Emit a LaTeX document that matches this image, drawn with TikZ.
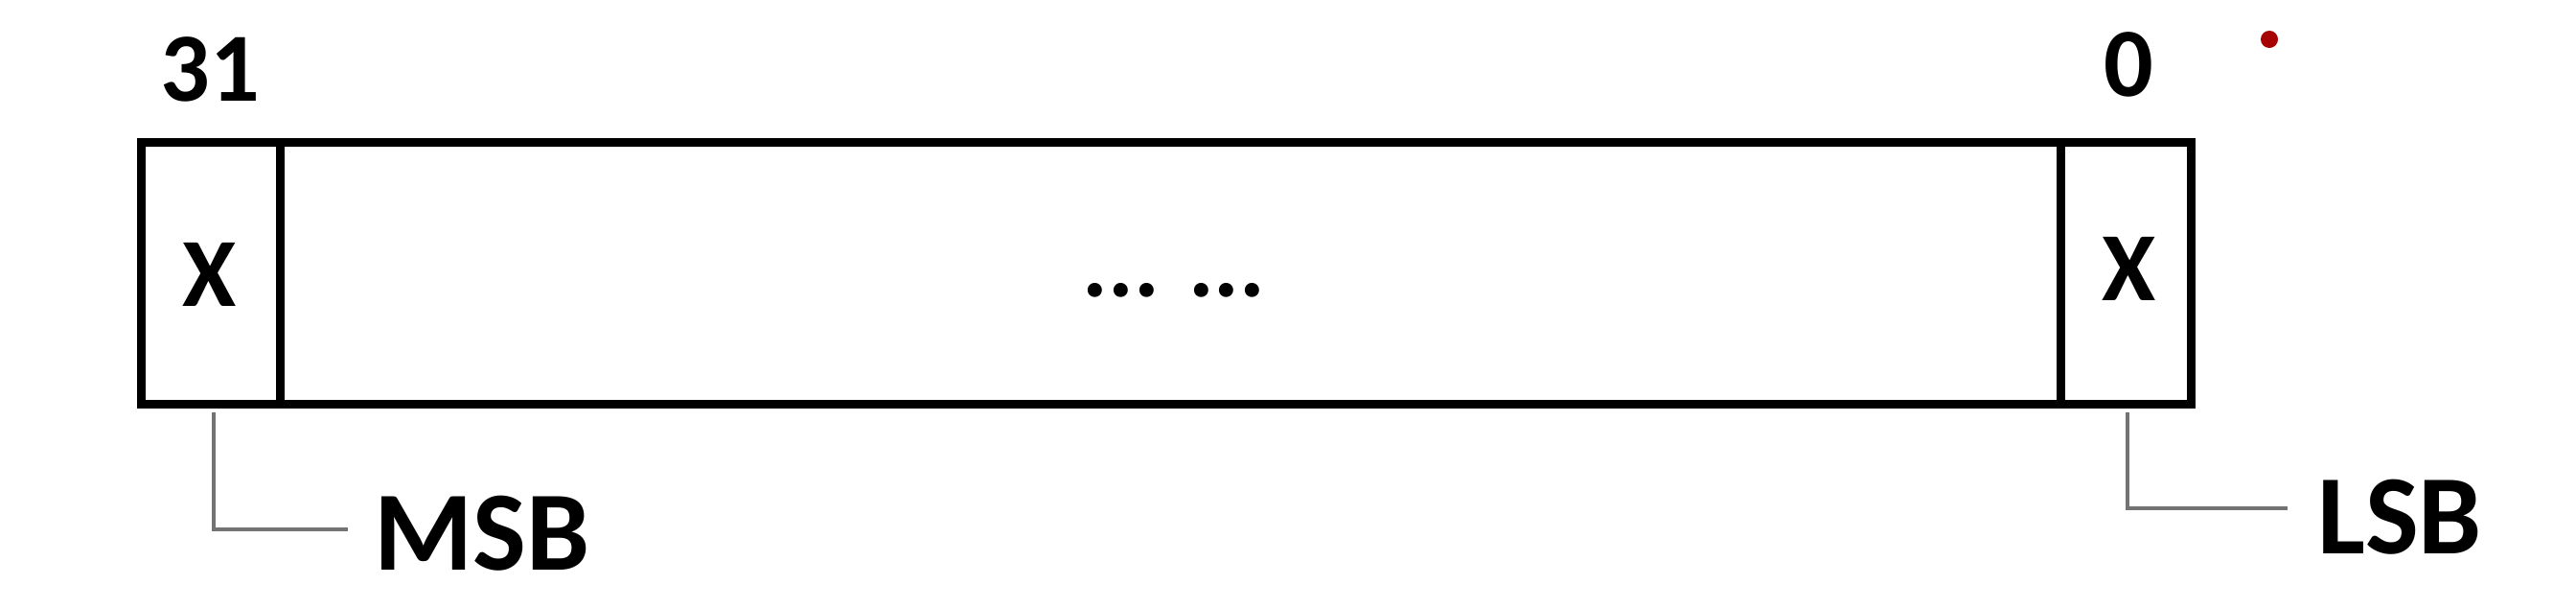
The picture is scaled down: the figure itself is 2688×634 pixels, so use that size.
\documentclass[tikz,border=0pt]{standalone}
\usepackage{fontspec}
\setmainfont{Carlito}
\begin{document}
\begin{tikzpicture}[x=1pt,y=-1pt,
  cell/.style={draw=black,line width=9pt,inner sep=0pt,minimum height=273pt},
  conn/.style={draw=black!55,line width=4.5pt},
  lbl/.style={font=\fontsize{118}{130}\selectfont\bfseries,anchor=west,inner ysep=0pt},
  bitno/.style={font=\fontsize{102}{110}\selectfont\bfseries,anchor=base,inner sep=0pt},
  xmark/.style={font=\fontsize{102}{110}\selectfont\bfseries,anchor=base,inner sep=0pt}]
\path[use as bounding box] (0,0) rectangle (2688,634);
% cells
\node[cell,minimum width=145pt] (msbcell) at (219.5,284.5) {};
\node[cell,minimum width=1858pt] (mid) at (1221,284.5) {};
\node[cell,minimum width=136pt] (lsbcell) at (2218,284.5) {};
% contents
\node[xmark] (x1) at (219,319) {X};
\node[xmark] (x0) at (2222,313) {X};
\node[font=\fontsize{100}{110}\selectfont\bfseries,anchor=base,inner sep=0pt] (dots) at (1225,309) {... ...};
% bit numbers
\node[bitno] (n31) at (219,106) {31};
\node[bitno] (n0) at (2221,100) {0};
% labels
\node[lbl,inner xsep=27pt] (msb) at (363,556) {MSB};
\node[lbl,inner xsep=31pt] (lsb) at (2387,539) {LSB};
\draw[conn] ([xshift=3.5pt,yshift=-4.5pt]msbcell.south) |- ([yshift=4pt]msb.west);
\draw[conn] ([xshift=2pt,yshift=-4.5pt]lsbcell.south) |- ([yshift=9pt]lsb.west);
% red dot
\fill[red!65!black] (2368,41) circle (9pt);
\end{tikzpicture}
\end{document}
